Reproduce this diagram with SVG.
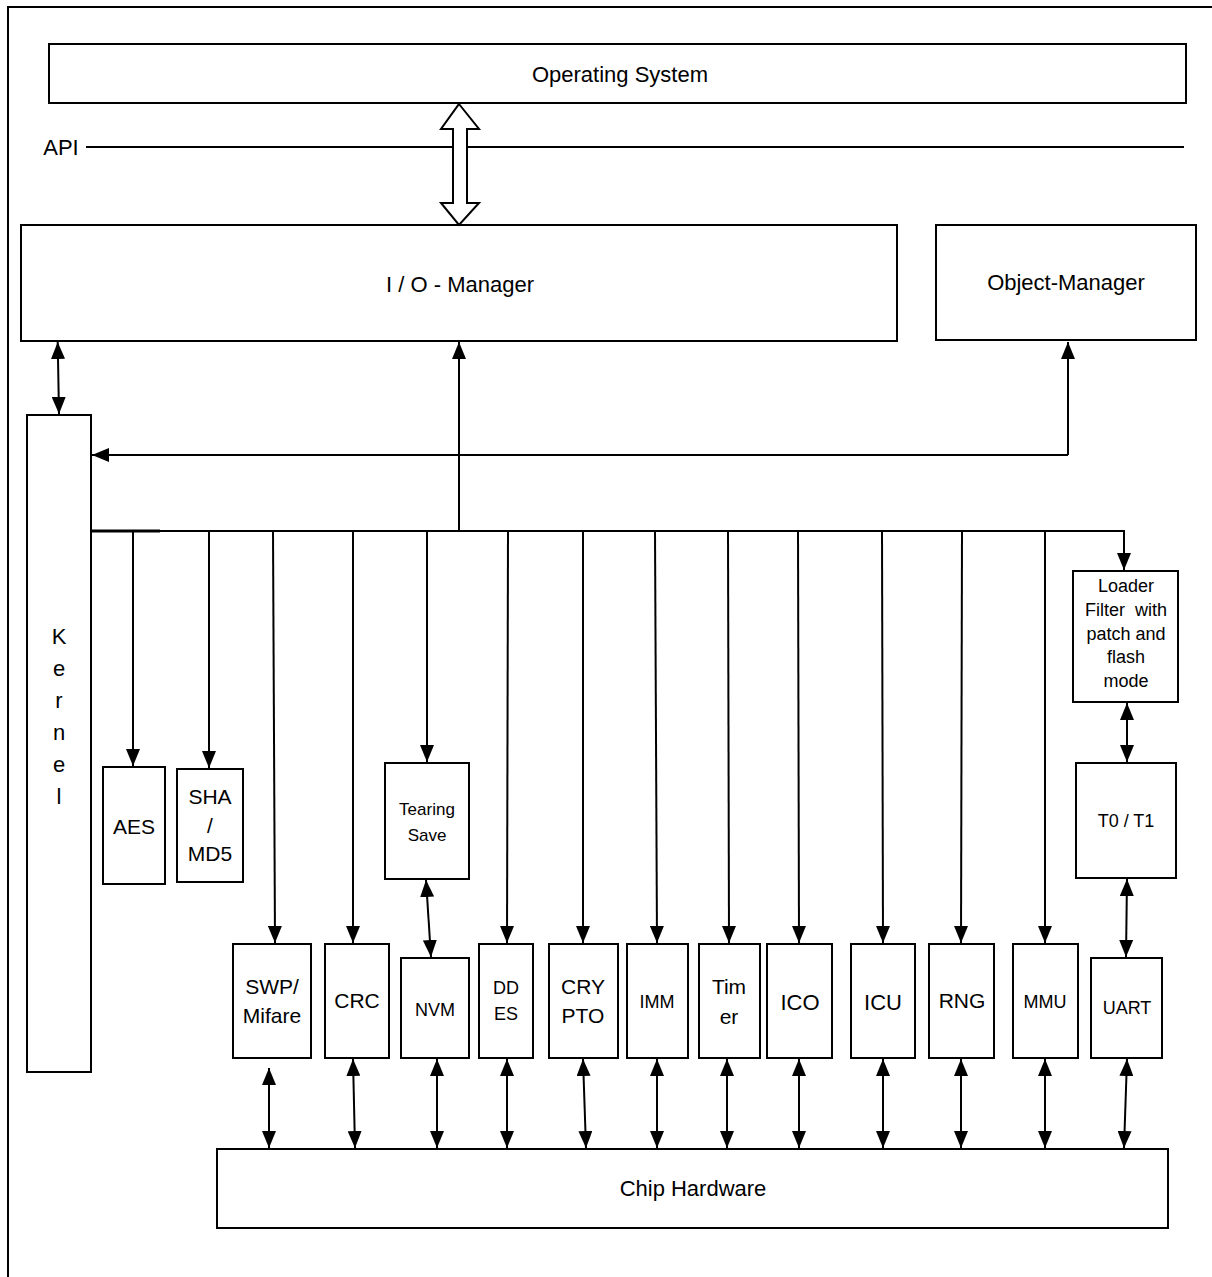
<svg xmlns="http://www.w3.org/2000/svg" width="1212" height="1277" viewBox="0 0 1212 1277">
<style>
.box{fill:#fff;stroke:#000;stroke-width:2}
.ln{fill:none;stroke:#000;stroke-width:2}
.t{font-family:"Liberation Sans",Arial,sans-serif;fill:#000;text-anchor:middle}
.big{font-size:22px}
.mid{font-size:21px}
.sm{font-size:18px}
</style>
<defs>
<marker id="ah" viewBox="0 0 17 14" refX="17" refY="7" markerWidth="17" markerHeight="14" markerUnits="userSpaceOnUse" orient="auto-start-reverse">
<path d="M0,0 L17,7 L0,14 Z" fill="#000"/>
</marker>
</defs>
<rect x="8" y="7" width="1212" height="1285" fill="none" stroke="#000" stroke-width="2"/>

<g id="os"><rect class="box" x="49" y="44" width="1137" height="59"/><text class="t big" x="620" y="82">Operating System</text></g>
<g id="api"><text class="t big" x="61" y="155">API</text><line class="ln" x1="86" y1="147" x2="1184" y2="147"/></g>
<g id="io"><rect class="box" x="21" y="225" width="876" height="116"/><text class="t big" x="460" y="292">I / O - Manager</text></g>
<g id="obj"><rect class="box" x="936" y="225" width="260" height="115"/><text class="t big" x="1066" y="290">Object-Manager</text></g>
<g id="kernel"><rect class="box" x="27" y="415" width="64" height="657"/>
<text class="t big" x="59" y="644">K</text><text class="t big" x="59" y="676">e</text><text class="t big" x="59" y="708">r</text><text class="t big" x="59" y="740">n</text><text class="t big" x="59" y="772">e</text><text class="t big" x="59" y="804">l</text></g>
<g id="aes"><rect class="box" x="103" y="767" width="62" height="117"/><text class="t mid" x="134" y="834">AES</text></g>
<g id="sha"><rect class="box" x="177" y="769" width="66" height="113"/><text class="t mid" x="210" y="804">SHA</text><text class="t mid" x="210" y="833">/</text><text class="t mid" x="210" y="861">MD5</text></g>
<g id="tearing"><rect class="box" x="385" y="763" width="84" height="116"/><text class="t" font-size="17" x="427" y="815">Tearing</text><text class="t" font-size="17" x="427" y="841">Save</text></g>
<g id="loader"><rect class="box" x="1073" y="571" width="105" height="131"/>
<text class="t sm" x="1126" y="592">Loader</text><text class="t sm" x="1126" y="616" xml:space="preserve">Filter  with</text><text class="t sm" x="1126" y="640">patch and</text><text class="t sm" x="1126" y="663">flash</text><text class="t sm" x="1126" y="687">mode</text></g>
<g id="t0t1"><rect class="box" x="1076" y="763" width="100" height="115"/><text class="t sm" x="1126" y="827">T0 / T1</text></g>
<g id="swp"><rect class="box" x="233" y="944" width="78" height="114"/><text class="t mid" x="272" y="994">SWP/</text><text class="t mid" x="272" y="1023">Mifare</text></g>
<g id="crc"><rect class="box" x="325" y="944" width="64" height="114"/><text class="t mid" x="357" y="1008">CRC</text></g>
<g id="nvm"><rect class="box" x="401" y="958" width="68" height="100"/><text class="t sm" x="435" y="1016">NVM</text></g>
<g id="ddes"><rect class="box" x="479" y="944" width="54" height="114"/><text class="t sm" x="506" y="994">DD</text><text class="t sm" x="506" y="1020">ES</text></g>
<g id="crypto"><rect class="box" x="549" y="944" width="69" height="114"/><text class="t mid" x="583" y="994">CRY</text><text class="t mid" x="583" y="1023">PTO</text></g>
<g id="imm"><rect class="box" x="627" y="944" width="61" height="114"/><text class="t sm" x="657" y="1008">IMM</text></g>
<g id="timer"><rect class="box" x="699" y="944" width="61" height="114"/><text class="t mid" x="729" y="994">Tim</text><text class="t mid" x="729" y="1024">er</text></g>
<g id="ico"><rect class="box" x="767" y="944" width="65" height="114"/><text class="t big" x="800" y="1010">ICO</text></g>
<g id="icu"><rect class="box" x="851" y="944" width="64" height="114"/><text class="t big" x="883" y="1010">ICU</text></g>
<g id="rng"><rect class="box" x="929" y="944" width="65" height="114"/><text class="t mid" x="962" y="1008">RNG</text></g>
<g id="mmu"><rect class="box" x="1013" y="944" width="65" height="114"/><text class="t sm" x="1045" y="1008">MMU</text></g>
<g id="uart"><rect class="box" x="1091" y="958" width="71" height="100"/><text class="t sm" x="1127" y="1014">UART</text></g>
<g id="chip"><rect class="box" x="217" y="1149" width="951" height="79"/><text class="t big" x="693" y="1196">Chip Hardware</text></g>

<g id="connectors">
<polygon points="459,104 479,129 467,129 467,203 479,203 459,225 441,203 453,203 453,129 441,129" fill="#fff" stroke="#000" stroke-width="2" stroke-linejoin="miter"/>
<line class="ln" x1="57.7" y1="342" x2="59" y2="414" marker-start="url(#ah)" marker-end="url(#ah)"/>
<line class="ln" x1="1068" y1="455" x2="92" y2="455" marker-end="url(#ah)"/>
<line class="ln" x1="1068" y1="455" x2="1068" y2="342" marker-end="url(#ah)"/>
<line class="ln" x1="459" y1="531" x2="459" y2="342" marker-end="url(#ah)"/>
<line x1="91" y1="531" x2="160" y2="531" stroke="#000" stroke-width="3"/>
<polyline class="ln" points="91,531 1124,531 1124,570" marker-end="url(#ah)"/>
<line class="ln" x1="133" y1="531" x2="133" y2="766" marker-end="url(#ah)"/>
<line class="ln" x1="209" y1="531" x2="209" y2="768" marker-end="url(#ah)"/>
<line class="ln" x1="273" y1="531" x2="275" y2="943" marker-end="url(#ah)"/>
<line class="ln" x1="353" y1="531" x2="353" y2="943" marker-end="url(#ah)"/>
<line class="ln" x1="427" y1="531" x2="427" y2="762" marker-end="url(#ah)"/>
<line class="ln" x1="508" y1="531" x2="507" y2="943" marker-end="url(#ah)"/>
<line class="ln" x1="583" y1="531" x2="583" y2="943" marker-end="url(#ah)"/>
<line class="ln" x1="655" y1="531" x2="657" y2="943" marker-end="url(#ah)"/>
<line class="ln" x1="728" y1="531" x2="729" y2="943" marker-end="url(#ah)"/>
<line class="ln" x1="798" y1="531" x2="799" y2="943" marker-end="url(#ah)"/>
<line class="ln" x1="882" y1="531" x2="883" y2="943" marker-end="url(#ah)"/>
<line class="ln" x1="962" y1="531" x2="961" y2="943" marker-end="url(#ah)"/>
<line class="ln" x1="1045" y1="531" x2="1045" y2="943" marker-end="url(#ah)"/>
<line class="ln" x1="426" y1="880" x2="431" y2="957" marker-start="url(#ah)" marker-end="url(#ah)"/>
<line class="ln" x1="1127" y1="703" x2="1127" y2="762" marker-start="url(#ah)" marker-end="url(#ah)"/>
<line class="ln" x1="1127" y1="879" x2="1126" y2="957" marker-start="url(#ah)" marker-end="url(#ah)"/>
<line class="ln" x1="269" y1="1068" x2="269" y2="1148" marker-start="url(#ah)" marker-end="url(#ah)"/>
<line class="ln" x1="353" y1="1059" x2="355" y2="1148" marker-start="url(#ah)" marker-end="url(#ah)"/>
<line class="ln" x1="437" y1="1059" x2="437" y2="1148" marker-start="url(#ah)" marker-end="url(#ah)"/>
<line class="ln" x1="507" y1="1059" x2="507" y2="1148" marker-start="url(#ah)" marker-end="url(#ah)"/>
<line class="ln" x1="583" y1="1059" x2="586" y2="1148" marker-start="url(#ah)" marker-end="url(#ah)"/>
<line class="ln" x1="657" y1="1059" x2="657" y2="1148" marker-start="url(#ah)" marker-end="url(#ah)"/>
<line class="ln" x1="727" y1="1059" x2="727" y2="1148" marker-start="url(#ah)" marker-end="url(#ah)"/>
<line class="ln" x1="799" y1="1059" x2="799" y2="1148" marker-start="url(#ah)" marker-end="url(#ah)"/>
<line class="ln" x1="883" y1="1059" x2="883" y2="1148" marker-start="url(#ah)" marker-end="url(#ah)"/>
<line class="ln" x1="961" y1="1059" x2="961" y2="1148" marker-start="url(#ah)" marker-end="url(#ah)"/>
<line class="ln" x1="1045" y1="1059" x2="1045" y2="1148" marker-start="url(#ah)" marker-end="url(#ah)"/>
<line class="ln" x1="1127" y1="1059" x2="1124" y2="1148" marker-start="url(#ah)" marker-end="url(#ah)"/>
</g>
</svg>
